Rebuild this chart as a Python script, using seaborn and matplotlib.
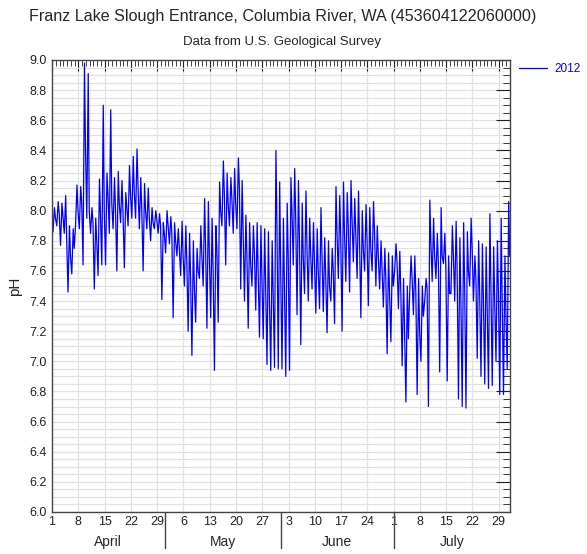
import pandas as pd
import numpy as np
import matplotlib
matplotlib.use('Agg')
import matplotlib.pyplot as plt
import matplotlib.ticker as mticker
import matplotlib.transforms as mtransforms
import seaborn as sns

# --- data (pH, 2012) ---
# one morning low, one afternoon high and one late evening value per day
START = pd.Timestamp('2012-04-01')
END = pd.Timestamp('2012-08-01')

ph_low = [
    # April
    7.86, 7.90, 7.77, 7.85, 7.46, 7.58, 7.90, 7.88, 7.64, 7.95,
    7.85, 7.48, 7.57, 7.64, 7.64, 7.85, 7.88, 7.60, 7.92, 7.62,
    7.90, 7.95, 7.95, 7.88, 7.60, 7.88, 7.80, 7.88, 7.85, 7.41,
    # May
    7.72, 7.78, 7.29, 7.70, 7.57, 7.50, 7.20, 7.04, 7.26, 7.55,
    7.50, 7.22, 7.29, 6.94, 7.26, 7.90, 7.64, 7.90, 7.85, 7.88,
    7.48, 7.40, 7.22, 7.50, 7.34, 7.16, 7.15, 6.98, 6.94, 6.96, 6.95,
    # June
    6.95, 6.90, 6.94, 7.64, 7.31, 7.11, 7.45, 7.40, 7.48, 7.32,
    7.35, 7.33, 7.19, 7.40, 7.25, 7.55, 7.20, 7.53, 7.46, 7.66,
    7.55, 7.29, 7.60, 7.37, 7.60, 7.50, 7.48, 7.36, 7.05, 7.13,
    # July
    7.60, 7.35, 6.97, 6.73, 7.45, 7.31, 6.78, 7.00, 7.40, 6.70,
    7.53, 7.55, 6.93, 7.65, 6.87, 7.45, 7.40, 6.75, 6.70, 6.69,
    7.50, 7.40, 7.02, 6.90, 6.85, 6.82, 6.84, 7.00, 6.78, 6.78, 6.95,
]

ph_high = [
    # April
    8.02, 8.06, 8.05, 8.10, 7.90, 7.88, 8.17, 8.16, 8.98, 8.91,
    8.02, 7.95, 8.21, 8.70, 8.25, 8.67, 8.22, 8.26, 8.20, 8.12,
    8.30, 8.36, 8.41, 8.22, 8.18, 8.15, 8.02, 8.00, 7.98, 7.92,
    # May
    8.00, 7.96, 7.92, 7.88, 7.93, 7.90, 7.85, 7.80, 7.75, 7.90,
    8.08, 8.06, 7.95, 7.90, 8.19, 8.33, 8.25, 8.22, 8.28, 8.35,
    8.20, 7.97, 7.92, 7.90, 7.92, 7.90, 7.88, 7.86, 7.80, 8.40, 8.19,
    # June
    7.95, 8.05, 8.22, 8.28, 8.20, 8.05, 8.13, 7.95, 7.92, 7.88,
    8.02, 7.82, 7.80, 7.75, 8.16, 8.10, 8.19, 8.12, 8.20, 8.08,
    8.13, 8.00, 8.04, 8.02, 8.06, 7.90, 7.80, 7.75, 7.72, 7.70,
    # July
    7.78, 7.73, 7.55, 7.50, 7.70, 7.70, 7.55, 7.50, 7.55, 8.07,
    7.95, 7.85, 8.02, 7.85, 7.70, 7.90, 7.93, 7.82, 7.92, 7.86,
    7.95, 7.70, 7.80, 7.78, 7.76, 7.98, 7.76, 7.80, 7.95, 7.70, 8.06,
]

ph_night = [
    # April
    7.95, 7.98, 7.96, 7.80, 7.70, 7.75, 8.00, 8.05, 8.41, 8.00,
    7.92, 7.80, 7.95, 8.00, 8.10, 8.05, 8.00, 8.05, 7.98, 8.02,
    8.10, 8.12, 8.15, 8.00, 8.00, 7.95, 7.92, 7.94, 7.90, 7.85,
    # May
    7.90, 7.85, 7.80, 7.75, 7.70, 7.65, 7.55, 7.50, 7.60, 7.70,
    7.75, 7.70, 7.60, 7.75, 8.00, 8.10, 8.05, 8.08, 8.05, 8.15,
    7.85, 7.70, 7.65, 7.72, 7.60, 7.55, 7.50, 7.40, 7.45, 7.90, 7.60,
    # June
    7.50, 7.70, 8.00, 7.95, 7.80, 7.70, 7.75, 7.70, 7.65, 7.60,
    7.70, 7.55, 7.50, 7.60, 7.85, 7.80, 7.85, 7.90, 7.95, 7.85,
    7.80, 7.75, 7.80, 7.75, 7.85, 7.70, 7.60, 7.55, 7.45, 7.50,
    # July
    7.65, 7.45, 7.20, 7.15, 7.55, 7.45, 7.20, 7.30, 7.48, 7.80,
    7.70, 7.65, 7.70, 7.60, 7.45, 7.70, 7.60, 7.40, 7.50, 7.60,
    7.75, 7.55, 7.45, 7.40, 7.35, 7.50, 7.40, 7.45, 7.40, 7.30, 7.70,
]

week_days = ['2012-04-01', '2012-04-08', '2012-04-15', '2012-04-22', '2012-04-29',
             '2012-05-06', '2012-05-13', '2012-05-20', '2012-05-27',
             '2012-06-03', '2012-06-10', '2012-06-17', '2012-06-24',
             '2012-07-01', '2012-07-08', '2012-07-15', '2012-07-22', '2012-07-29']
months = ['April', 'May', 'June', 'July']
month_starts = ['2012-04-01', '2012-05-01', '2012-06-01', '2012-07-01', '2012-08-01']

# --- build the series (day number since April 1) ---
rows = []
for i, (lo, hi, nt) in enumerate(zip(ph_low, ph_high, ph_night)):
    rows.append({'day': i + 0.27, 'pH': lo})
    rows.append({'day': i + 0.65, 'pH': hi})
    rows.append({'day': i + 0.92, 'pH': nt})
df = pd.DataFrame(rows)
df['year'] = '2012'

def day_num(s):
    return (pd.Timestamp(s) - START).days

# --- plot ---
sns.set_style('white')
plt.rcParams['font.family'] = ['Liberation Sans', 'DejaVu Sans']

fig = plt.figure(figsize=(5.87, 5.54), dpi=100)
ax = fig.add_axes([52 / 587, 1 - 512 / 554, 458 / 587, 452 / 554])

sns.lineplot(data=df, x='day', y='pH', hue='year', palette=['#0000ff'],
             estimator=None, linewidth=0.9, ax=ax)

ax.set_xlim(0, (END - START).days)
ax.set_ylim(6.0, 9.0)

# y axis: labels every 0.2, grid every 0.05
ax.yaxis.set_major_locator(mticker.MultipleLocator(0.2))
ax.yaxis.set_minor_locator(mticker.MultipleLocator(0.05))
ax.yaxis.set_major_formatter(mticker.FormatStrFormatter('%.1f'))

# x axis: weekly labels, daily minor ticks
ax.xaxis.set_major_locator(mticker.FixedLocator([day_num(d) for d in week_days]))
ax.xaxis.set_minor_locator(mticker.MultipleLocator(1))
ax.set_xticklabels([str(pd.Timestamp(d).day) for d in week_days])

ax.grid(which='both', axis='y', color='#e2e2e2', linewidth=0.9)
ax.grid(which='major', axis='x', color='#e2e2e2', linewidth=0.9)
ax.set_axisbelow(True)

ax.tick_params(axis='both', which='both', direction='in', top=True, right=True,
               colors='#222222', labelsize=9)
ax.tick_params(axis='x', which='major', length=8, pad=3)
ax.tick_params(axis='x', which='minor', length=4)
ax.tick_params(axis='y', which='major', length=10, pad=4)
ax.tick_params(axis='y', which='minor', length=5)
for s in ax.spines.values():
    s.set_color('#444444')
    s.set_linewidth(1.0)

ax.set_xlabel('')
ax.set_ylabel('pH', fontsize=11, labelpad=5)

# month labels and separators under the axis
trans = mtransforms.blended_transform_factory(ax.transData, ax.transAxes)
for d in month_starts[1:-1]:
    x = day_num(d)
    ax.plot([x, x], [0, -0.08], transform=trans, color='#444444', linewidth=1.0, clip_on=False)
for m, a, b in zip(months, month_starts[:-1], month_starts[1:]):
    ax.text((day_num(a) + day_num(b)) / 2, -0.066, m, transform=trans,
            ha='center', va='center', fontsize=10)

leg = ax.legend(loc='upper left', bbox_to_anchor=(1.0, 1.015), frameon=False,
                fontsize=8.5, handlelength=2.3, handletextpad=0.7,
                labelcolor='#0000ff', borderaxespad=0.4)

fig.text(283 / 587, 1 - 16 / 554, 'Franz Lake Slough Entrance, Columbia River, WA (453604122060000)',
         ha='center', va='center', fontsize=11.6)
fig.text(282 / 587, 1 - 42 / 554, 'Data from U.S. Geological Survey',
         ha='center', va='center', fontsize=9.5)

fig.savefig('out.png', dpi=100)
